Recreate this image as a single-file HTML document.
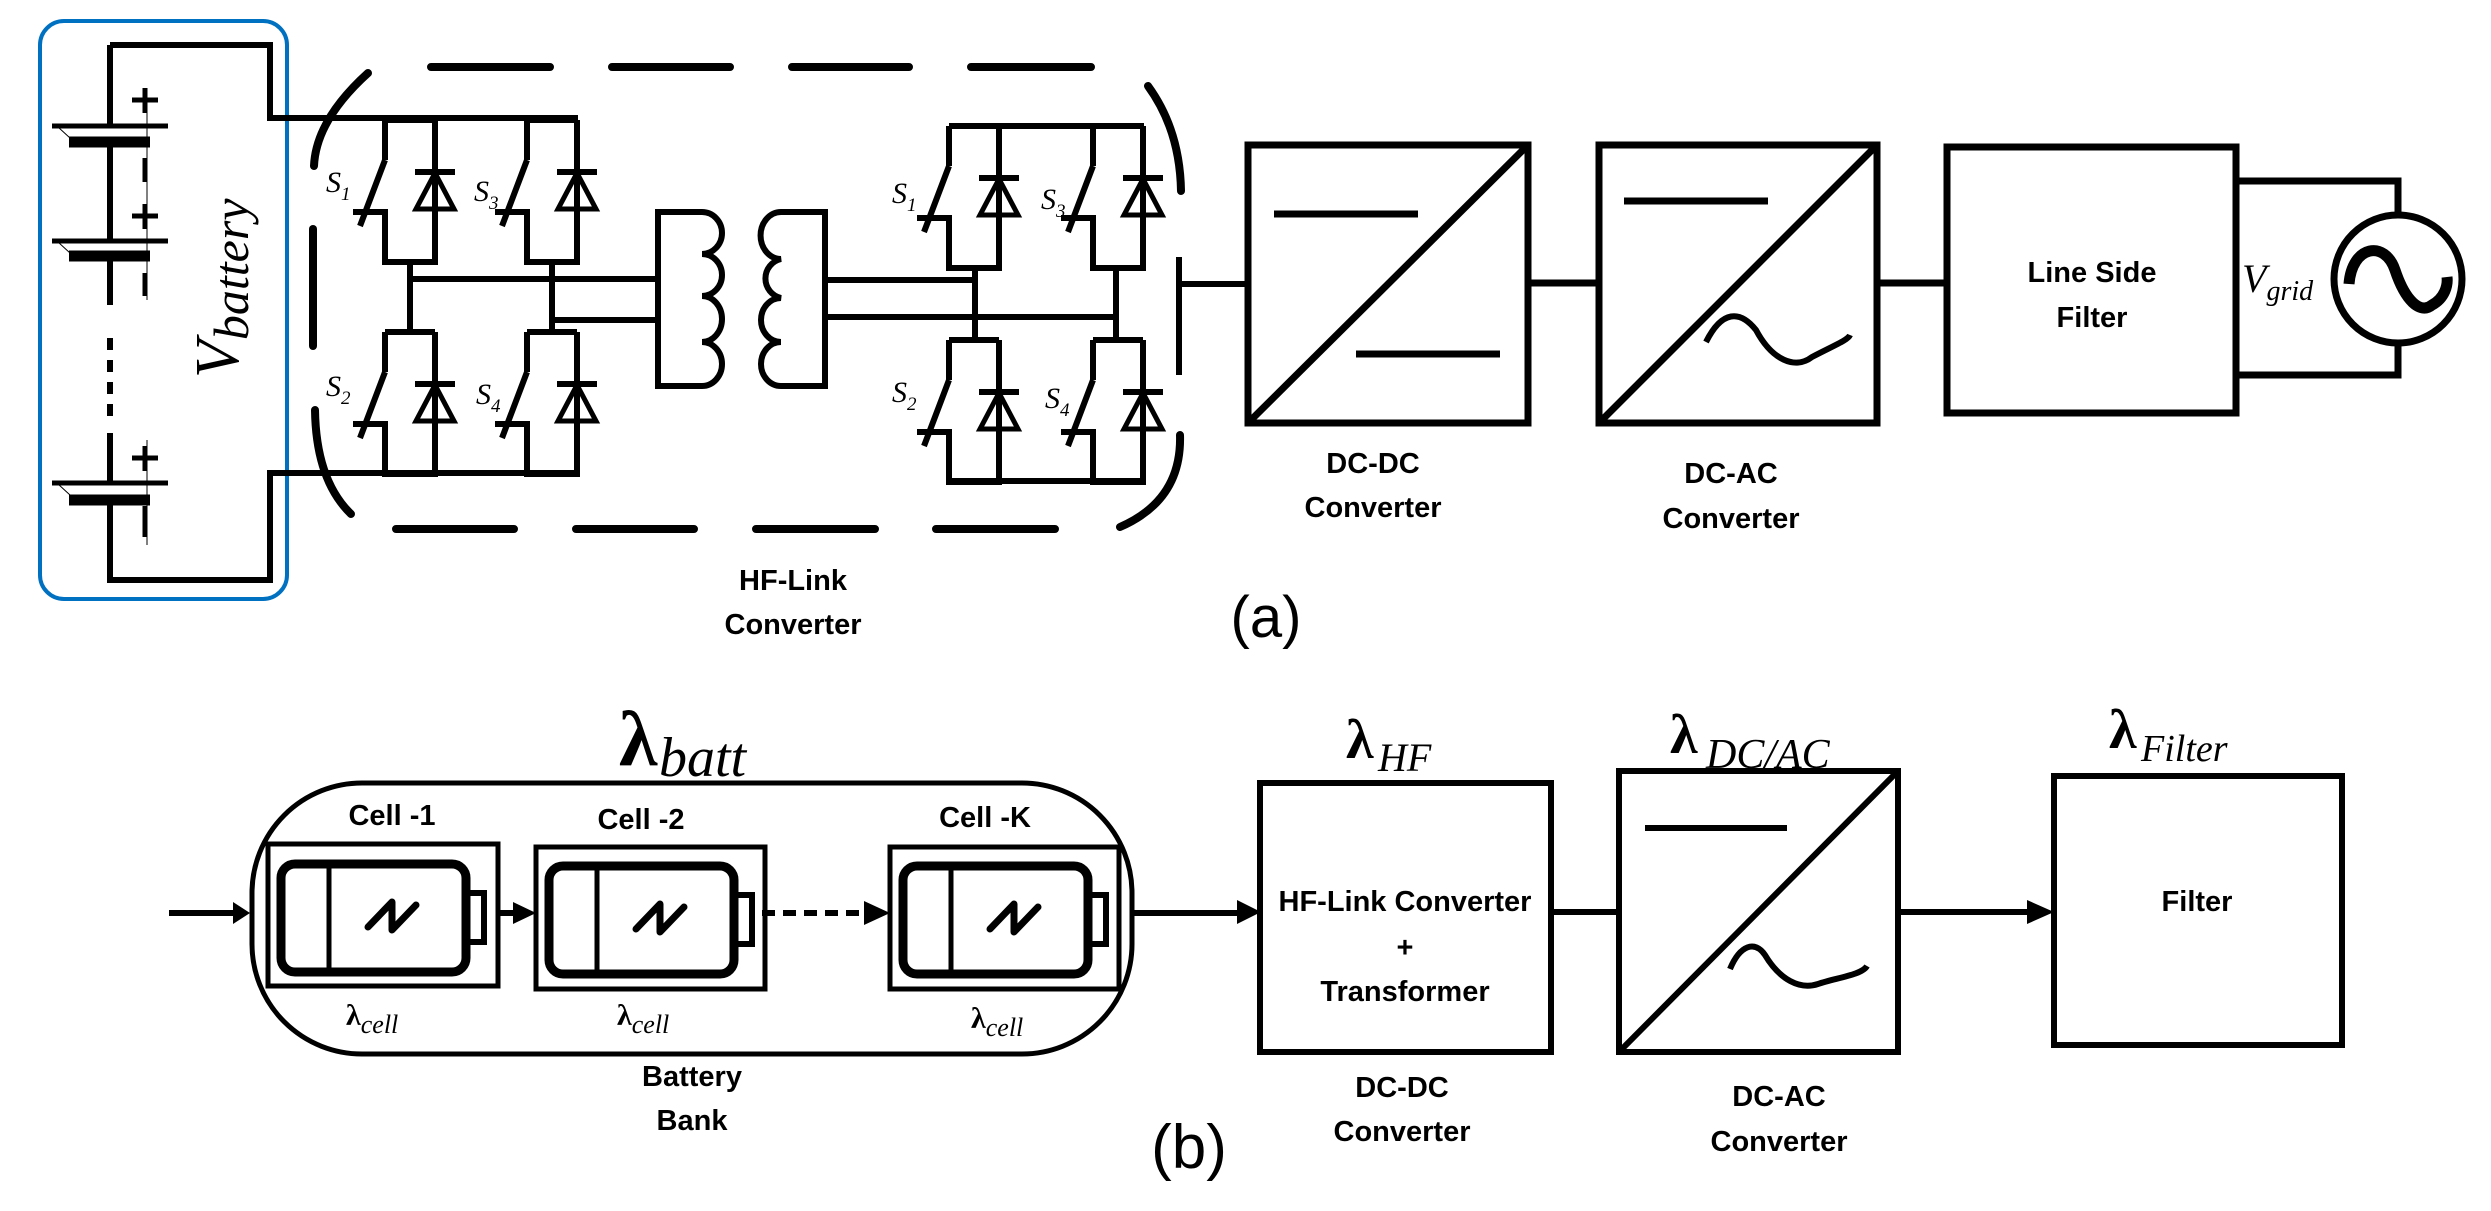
<!DOCTYPE html>
<html><head><meta charset="utf-8"><style>
html,body{margin:0;padding:0;background:#fff;}
svg{display:block;}
.s{font-family:"Liberation Sans",sans-serif;font-weight:bold;fill:#000;}
.m{font-family:"Liberation Serif",serif;font-style:italic;fill:#000;}
</style></head><body>
<svg width="2491" height="1211" viewBox="0 0 2491 1211" xmlns="http://www.w3.org/2000/svg">
<defs>
<g id="cell" fill="none" stroke="#000" stroke-width="6" stroke-linejoin="miter">
  <path d="M0,0 V40 M0,40 L-25,106 M-32,92 H0 V142 H50 V0 M0,0 H50"/>
  <path d="M30,52 H70"/>
  <path d="M50,53 L31,89 H69 Z" stroke-width="5"/>
</g>
<g id="batt">
  <rect x="281" y="864" width="185" height="108" rx="14" fill="none" stroke="#000" stroke-width="9"/>
  <rect x="466" y="893" width="18" height="49" fill="none" stroke="#000" stroke-width="6"/>
  <line x1="329" y1="866" x2="329" y2="970" stroke="#000" stroke-width="5"/>
  <path d="M368,927 L392,902 L392,930 L416,905" fill="none" stroke="#000" stroke-width="7" stroke-linecap="round" stroke-linejoin="round"/>
</g>
</defs>

<!-- ===== (a) ===== -->
<rect x="40" y="21" width="247" height="578" rx="24" fill="none" stroke="#0070C0" stroke-width="4"/>
<g fill="none" stroke="#000" stroke-width="6">
  <path d="M110,45 H270 V118 H578"/>
  <path d="M110,45 V126 M110,142 V241 M110,256 V305"/>
  <path d="M110,433 V483 M110,500 V580 H270 V473 H578"/>
  <path d="M110,338 V418" stroke-dasharray="12,10"/>
</g>
<g stroke="#000">
  <line x1="52" y1="126" x2="168" y2="126" stroke-width="5"/>
  <line x1="69" y1="142" x2="150" y2="142" stroke-width="11"/>
  <line x1="52" y1="241" x2="168" y2="241" stroke-width="5"/>
  <line x1="69" y1="256" x2="150" y2="256" stroke-width="11"/>
  <line x1="52" y1="483" x2="168" y2="483" stroke-width="5"/>
  <line x1="69" y1="500" x2="150" y2="500" stroke-width="11"/>
  <g stroke-width="5">
    <path d="M132,100 H158 M145,88 V113 M145,158 V182"/>
    <path d="M132,216 H158 M145,204 V229 M145,273 V296"/>
    <path d="M132,458 H158 M145,446 V471 M145,506 V537"/>
  </g>
  <g stroke-width="1">
    <path d="M147,90 V300 M147,440 V545"/>
    <path d="M58,127 L70,138 M58,242 L70,253 M58,484 L70,495"/>
  </g>
</g>
<text class="m" transform="translate(238,378) rotate(-90)" font-size="62">V<tspan font-size="50" dy="10">battery</tspan></text>

<!-- dashed boundary -->
<g stroke="#000" stroke-width="8" stroke-linecap="round" fill="none">
  <path d="M431,67 H550 M612,67 H730 M792,67 H909 M971,67 H1091"/>
  <path d="M396,529 H514 M576,529 H694 M756,529 H875 M936,529 H1055"/>
  <path d="M368,73 Q316,120 314,166"/>
  <path d="M313,229 V346"/>
  <path d="M315,410 Q316,480 351,514"/>
  <path d="M1148,86 Q1180,130 1181,191"/>
  <path d="M1180,435 Q1182,500 1120,527"/>
</g>
<g stroke="#000" stroke-width="6" fill="none">
  <path d="M1179,257 V375"/>
  <path d="M1179,284 H1248"/>
</g>

<!-- bridge 1 -->
<use href="#cell" x="385" y="120"/>
<use href="#cell" x="527" y="120"/>
<use href="#cell" x="385" y="332"/>
<use href="#cell" x="527" y="332"/>
<g stroke="#000" stroke-width="6" fill="none">
  <path d="M410,262 V332 M552,262 V332"/>
  <path d="M410,279 H658 M552,320 H658"/>
  <!-- transformer primary -->
  <path d="M658,212 H702 A20,21 0 0 1 702,254 A20,21 0 0 1 702,296 A20,23 0 0 1 702,342 A20,22 0 0 1 702,386 H658 Z"/>
  <!-- secondary -->
  <path d="M825,212 H781 A20,23 0 0 0 781,259 A20,20 0 0 0 781,298 A20,22 0 0 0 781,342 A20,22 0 0 0 781,386 H825 Z"/>
  <path d="M825,280 H975 M825,317 H1116"/>
  <path d="M975,270 V340 M1116,270 V340"/>
  <path d="M949,126 H1144 M949,481 H1144"/>
</g>
<use href="#cell" x="949" y="126"/>
<use href="#cell" x="1093" y="126"/>
<use href="#cell" x="949" y="340"/>
<use href="#cell" x="1093" y="340"/>

<g class="m" font-size="30">
  <text x="326" y="192">S<tspan font-size="19" dy="8">1</tspan></text>
  <text x="474" y="201">S<tspan font-size="19" dy="8">3</tspan></text>
  <text x="326" y="396">S<tspan font-size="19" dy="8">2</tspan></text>
  <text x="476" y="404">S<tspan font-size="19" dy="8">4</tspan></text>
  <text x="892" y="203">S<tspan font-size="19" dy="8">1</tspan></text>
  <text x="1041" y="209">S<tspan font-size="19" dy="8">3</tspan></text>
  <text x="892" y="402">S<tspan font-size="19" dy="8">2</tspan></text>
  <text x="1045" y="408">S<tspan font-size="19" dy="8">4</tspan></text>
</g>
<text class="s" font-size="29" x="793" y="590" text-anchor="middle">HF-Link</text>
<text class="s" font-size="29" x="793" y="634" text-anchor="middle">Converter</text>

<!-- DC-DC -->
<g stroke="#000" stroke-width="7" fill="none">
  <rect x="1248" y="145" width="280" height="278"/>
  <path d="M1248,423 L1528,145"/>
  <path d="M1274,214 H1418 M1356,354 H1500"/>
  <path d="M1528,283 H1599"/>
  <rect x="1599" y="145" width="278" height="278"/>
  <path d="M1599,423 L1877,145"/>
  <path d="M1624,201 H1768"/>
  <path d="M1706,342 C1722,310 1740,310 1756,330 C1772,360 1795,370 1812,357 C1835,345 1848,340 1850,335" stroke-width="6"/>
  <path d="M1877,283 H1947"/>
  <rect x="1947" y="147" width="289" height="266"/>
  <path d="M2236,181 H2398 V213 M2236,375 H2398 V345"/>
  <circle cx="2398" cy="279" r="64"/>
  <path d="M2349,284 C2352,245 2385,240 2395,270 C2405,300 2420,315 2432,305 C2445,298 2448,285 2447,277" stroke-width="11"/>
</g>
<text class="s" font-size="29" x="2092" y="282" text-anchor="middle">Line Side</text>
<text class="s" font-size="29" x="2092" y="327" text-anchor="middle">Filter</text>
<text class="m" font-size="40" x="2242" y="292">V<tspan font-size="28" dy="8">grid</tspan></text>
<text class="s" font-size="29" x="1373" y="473" text-anchor="middle">DC-DC</text>
<text class="s" font-size="29" x="1373" y="517" text-anchor="middle">Converter</text>
<text class="s" font-size="29" x="1731" y="483" text-anchor="middle">DC-AC</text>
<text class="s" font-size="29" x="1731" y="528" text-anchor="middle">Converter</text>
<text x="1266" y="637" text-anchor="middle" font-family="Liberation Sans,sans-serif" font-size="58">(a)</text>

<!-- ===== (b) ===== -->
<text x="619" y="765" font-family="Liberation Serif,serif" font-weight="bold" font-size="78">λ</text>
<text class="m" x="659" y="776" font-size="56">batt</text>
<rect x="252" y="783" width="880" height="271" rx="110" fill="none" stroke="#000" stroke-width="5"/>
<g stroke="#000" stroke-width="6" fill="none">
  <path d="M169,913 H236 M498,913 H516 M1132,913 H1240 M1551,912 H1619 M1898,912 H2030"/>
  <path d="M762,913 H866" stroke-dasharray="13,8"/>
</g>
<g fill="#000">
  <path d="M233,902 L250,913 L233,924 Z"/>
  <path d="M513,902 L536,913 L513,924 Z"/>
  <path d="M864,901 L890,913 L864,925 Z"/>
  <path d="M1237,900 L1261,912 L1237,924 Z"/>
  <path d="M2027,900 L2054,912 L2027,924 Z"/>
</g>
<g fill="none" stroke="#000" stroke-width="5">
  <rect x="268" y="844" width="230" height="142"/>
  <rect x="536" y="847" width="229" height="142"/>
  <rect x="890" y="847" width="229" height="142"/>
</g>
<use href="#batt"/>
<use href="#batt" x="268" y="2"/>
<use href="#batt" x="622" y="2"/>
<text class="s" font-size="29" x="392" y="825" text-anchor="middle">Cell -1</text>
<text class="s" font-size="29" x="641" y="829" text-anchor="middle">Cell -2</text>
<text class="s" font-size="29" x="985" y="827" text-anchor="middle">Cell -K</text>
<g font-size="30">
  <text x="346" y="1025"><tspan font-family="Liberation Serif,serif" font-weight="bold">λ</tspan><tspan class="m" font-size="26" dy="8">cell</tspan></text>
  <text x="617" y="1025"><tspan font-family="Liberation Serif,serif" font-weight="bold">λ</tspan><tspan class="m" font-size="26" dy="8">cell</tspan></text>
  <text x="971" y="1028"><tspan font-family="Liberation Serif,serif" font-weight="bold">λ</tspan><tspan class="m" font-size="26" dy="8">cell</tspan></text>
</g>
<text class="s" font-size="29" x="692" y="1086" text-anchor="middle">Battery</text>
<text class="s" font-size="29" x="692" y="1130" text-anchor="middle">Bank</text>

<g stroke="#000" stroke-width="6" fill="none">
  <rect x="1260" y="783" width="291" height="269"/>
  <rect x="1619" y="771" width="279" height="281"/>
  <path d="M1619,1052 L1898,771"/>
  <path d="M1645,828 H1787"/>
  <path d="M1730,969 C1740,945 1755,940 1765,955 C1780,980 1800,990 1818,984 C1835,978 1862,975 1867,966" stroke-width="6"/>
  <rect x="2054" y="776" width="288" height="269"/>
</g>
<text class="s" font-size="29" x="1405" y="911" text-anchor="middle">HF-Link Converter</text>
<text class="s" font-size="29" x="1405" y="957" text-anchor="middle">+</text>
<text class="s" font-size="29" x="1405" y="1001" text-anchor="middle">Transformer</text>
<text class="s" font-size="29" x="2197" y="911" text-anchor="middle">Filter</text>

<text x="1346" y="758" font-family="Liberation Serif,serif" font-weight="bold" font-size="56">λ</text>
<text class="m" x="1378" y="771" font-size="40">HF</text>
<text x="1670" y="753" font-family="Liberation Serif,serif" font-weight="bold" font-size="56">λ</text>
<text class="m" x="1706" y="768" font-size="42">DC/AC</text>
<text x="2109" y="748" font-family="Liberation Serif,serif" font-weight="bold" font-size="56">λ</text>
<text class="m" x="2141" y="761" font-size="38">Filter</text>

<text class="s" font-size="29" x="1402" y="1097" text-anchor="middle">DC-DC</text>
<text class="s" font-size="29" x="1402" y="1141" text-anchor="middle">Converter</text>
<text class="s" font-size="29" x="1779" y="1106" text-anchor="middle">DC-AC</text>
<text class="s" font-size="29" x="1779" y="1151" text-anchor="middle">Converter</text>
<text x="1189" y="1168" text-anchor="middle" font-family="Liberation Sans,sans-serif" font-size="62">(b)</text>
</svg>
</body></html>
